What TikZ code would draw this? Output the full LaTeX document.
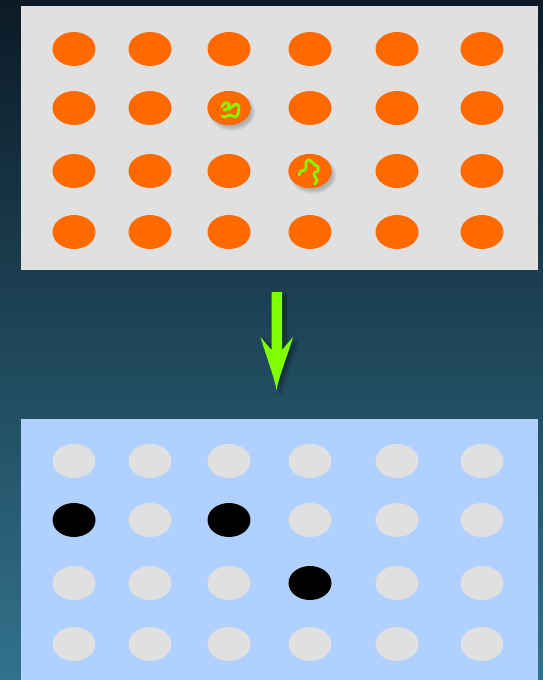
\documentclass[tikz,border=0pt]{standalone}
\usepackage{tikz}
\usepackage{xcolor}
\usetikzlibrary{shapes.geometric,shadows.blur}

\definecolor{bgTop}{RGB}{11,26,38}
\definecolor{bgMiddle}{RGB}{24,56,72}
\definecolor{bgBottom}{RGB}{50,114,140}
\definecolor{panelGray}{RGB}{224,224,224}
\definecolor{panelBlue}{RGB}{176,208,255}
\definecolor{dotOrange}{RGB}{255,106,0}
\definecolor{dotGray}{RGB}{224,224,224}
\definecolor{limeGreen}{RGB}{128,255,0}

\tikzset{
    dot/.style={ellipse, inner sep=0pt, minimum width=43pt, minimum height=34pt},
    softshadow/.style={blur shadow={shadow xshift=4pt, shadow yshift=-3pt,
        shadow blur radius=3pt, shadow blur steps=8, shadow opacity=35}},
    squiggle/.style={limeGreen, line width=2.6pt, line join=round, line cap=round},
}

% orange dot with a soft shadow to the lower right
\newcommand{\markedDot}[1]{%
    \foreach \g in {0,...,5} {
        \node[dot, fill=black, fill opacity=0.035, xshift=3pt, yshift=-4pt,
            minimum width=47pt-1.6*\g pt, minimum height=38pt-1.6*\g pt] at (#1) {};
    }
    \node[dot, fill=dotOrange] at (#1) {};
}

\begin{document}
\begin{tikzpicture}[x=1pt, y=-1pt]
    \useasboundingbox (0,0) rectangle (543,680);
    \shade[top color=bgTop, middle color=bgMiddle, bottom color=bgBottom]
        (0,0) rectangle (543,680);

    % the two panels
    \fill[panelGray] (21,6) rectangle (538,270);
    \fill[panelBlue] (21,419) rectangle (538,680);

    % 4 x 6 grid of dots in each panel
    \foreach \c/\x in {1/74, 2/150, 3/229, 4/310, 5/397, 6/482} {
        \foreach \r/\y in {1/49, 2/108, 3/171, 4/232} {
            \node[dot, fill=dotOrange] (a-\r-\c) at (\x,\y) {};
            \node[dot, fill=dotGray] (b-\r-\c) at (\x,\y+412) {};
        }
    }

    % marked dots with scribbles
    \markedDot{a-2-3}
    \markedDot{a-3-4}
    \draw[squiggle] plot[smooth, tension=0.6] coordinates {
        (222,107) (225,103) (229,104) (228,108) (224,110) (229,109)
        (233,106) (237,104) (239,108) (238,114) (235,117) (230,115) (225,117) (222,116)};
    \draw[squiggle] plot[smooth, tension=0.5] coordinates {
        (299,175) (301,171) (305,170) (306,166) (306,162) (309,160)
        (312,162) (315,165) (318,167) (318,171) (314,173) (315,177)
        (317,180) (315,184)};

    % result dots
    \foreach \r/\c in {2/1, 2/3, 3/4} {
        \node[dot, fill=black] at (b-\r-\c) {};
    }

    % arrow between the panels
    \coordinate (arrowtop) at (276.5,292);
    \fill[limeGreen, softshadow] (arrowtop) ++(-5,0) -- ++(10.5,0) -- ++(0,58)
        -- ++(11,-13) .. controls ++(-6,20) and ++(2,-12) .. (276.5,390)
        .. controls ++(-2,-12) and ++(6,20) .. (260.5,337) -- ++(11,13) -- cycle;
\end{tikzpicture}
\end{document}
